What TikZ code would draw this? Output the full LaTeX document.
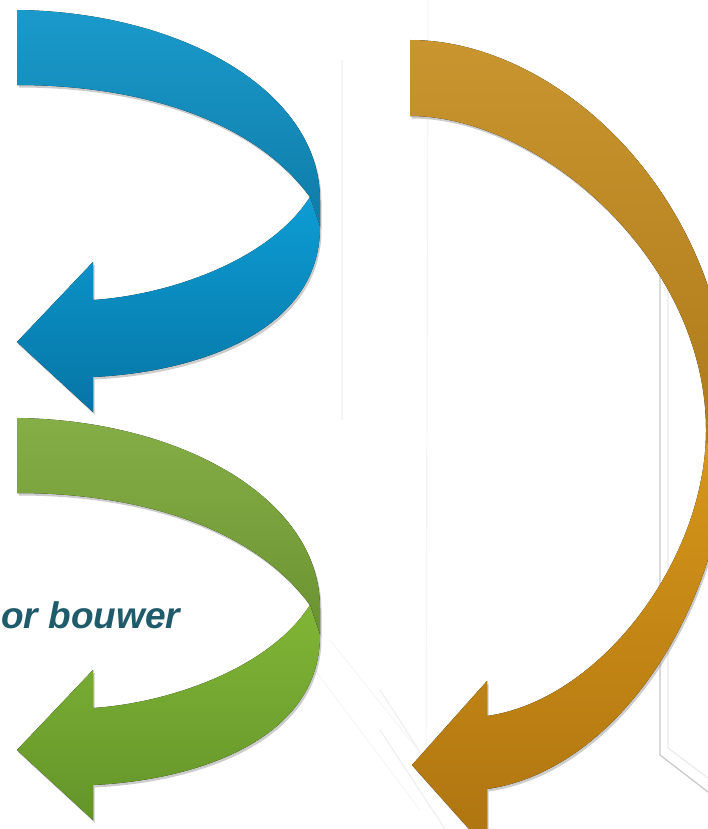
\documentclass[tikz,border=0pt]{standalone}
\usepackage{fontspec}
\setmainfont{Liberation Sans}
\usetikzlibrary{shadows, math}
\definecolor{blueA}{RGB}{26,154,203}
\definecolor{blueB}{RGB}{15,124,168}
\definecolor{blueC}{RGB}{13,157,212}
\definecolor{blueD}{RGB}{6,117,165}
\definecolor{greenA}{RGB}{134,174,71}
\definecolor{greenB}{RGB}{106,146,48}
\definecolor{greenC}{RGB}{128,182,54}
\definecolor{greenD}{RGB}{100,148,42}
\definecolor{orA}{RGB}{200,149,47}
\definecolor{orB}{RGB}{175,123,27}
\definecolor{orC}{RGB}{214,150,26}
\definecolor{orD}{RGB}{174,116,16}
\definecolor{textteal}{RGB}{31,91,107}
\pgfdeclareverticalshading{orangeband}{100bp}{color(0bp)=(orD); color(25bp)=(orD); color(50bp)=(orC); color(50.2bp)=(orB); color(75bp)=(orA); color(100bp)=(orA)}

\begin{document}
\begin{tikzpicture}[x=1pt, y=-1pt,
  band/.style={drop shadow={opacity=0.4, shadow xshift=1.5pt, shadow yshift=-2.5pt}},
  sketch/.style={line width=1.2pt, black!#1}]
\tikzmath{
\dy=408;
}
\useasboundingbox[fill=white] (0,0) rectangle (708,829);

%sketch behind
\draw[sketch=22] (660,265) -- (660,755) -- (708,792);
\draw[sketch=8] (668,265) -- (668,748) -- (708,778);
\draw[sketch=4] (428,0) -- (426,780);
\draw[sketch=4] (342,60) -- (342,420);
\draw[sketch=6] (380,690) -- (470,829);
\draw[sketch=6] (380,730) -- (445,829);
\draw[sketch=3] (300,650) -- (420,810);
\draw[sketch=3] (330,640) -- (450,790);

%blue, back of the band
\fill[band, top color=blueA, bottom color=blueB] (17,10) .. controls (180,12) and (320,90) .. (320,200) -- (320,227) -- (310,197) .. controls (250,115) and (130,85) .. (17,85) -- cycle;
%blue, front of the band
\fill[band, top color=blueC, bottom color=blueD] (310,197) -- (320,227) .. controls (320,330) and (200,372) .. (93,377) -- (93,412) -- (17,342) -- (93,262) -- (93,300) .. controls (170,295) and (270,260) .. (310,197) -- cycle;

%green
\begin{scope}[shift={(0,\dy)}]
\fill[band, top color=greenA, bottom color=greenB] (17,10) .. controls (180,12) and (320,90) .. (320,200) -- (320,227) -- (310,197) .. controls (250,115) and (130,85) .. (17,85) -- cycle;
\fill[band, top color=greenC, bottom color=greenD] (310,197) -- (320,227) .. controls (320,330) and (200,372) .. (93,377) -- (93,412) -- (17,342) -- (93,262) -- (93,300) .. controls (170,295) and (270,260) .. (310,197) -- cycle;
\end{scope}

%orange
\fill[band, shading=orangeband] (410,40) .. controls (560,40) and (730,200) .. (730,420) .. controls (730,600) and (620,770) .. (487,789) -- (487,849) -- (412,765) -- (487,681) -- (487,716) .. controls (600,700) and (706,560) .. (706,430) .. controls (706,260) and (540,116) .. (410,116) -- cycle;

\node[anchor=base west, text=textteal, font=\fontsize{37}{40}\selectfont\bfseries\itshape, inner sep=0pt] (label) at (1,628) {or bouwer};
\end{tikzpicture}
\end{document}
